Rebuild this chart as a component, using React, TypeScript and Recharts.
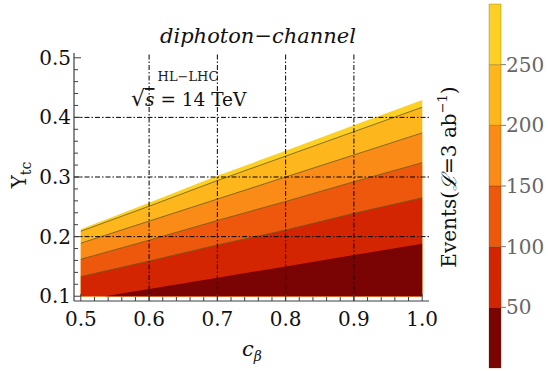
import React from 'react';
import { ComposedChart, Area, XAxis, YAxis, ReferenceLine, BarChart, Bar } from 'recharts';

const FONT = '"DejaVu Serif", "Liberation Serif", serif';
const FRAME = '#3f3f3f';
const CONTOUR_STROKE = '#6a5a1c';

// axis ticks (major + minor)
const xTicks = [0.5, 0.52, 0.54, 0.56, 0.58, 0.6, 0.62, 0.64, 0.66, 0.68, 0.7, 0.72, 0.74, 0.76, 0.78, 0.8, 0.82, 0.84, 0.86, 0.88, 0.9, 0.92, 0.94, 0.96, 0.98, 1.0];
const yTicks = [0.1, 0.12, 0.14, 0.16, 0.18, 0.2, 0.22, 0.24, 0.26, 0.28, 0.3, 0.32, 0.34, 0.36, 0.38, 0.4, 0.42, 0.44, 0.46, 0.48, 0.5];
const xGrid = [0.6, 0.7, 0.8, 0.9];
const yGrid = [0.2, 0.3, 0.4];

// c_beta sample positions
const cBeta = [0.5, 0.6, 0.7, 0.8, 0.9, 1.0];
const cBeta50 = [0.535, 0.6, 0.7, 0.8, 0.9, 1.0];

// Y_tc values along each boundary
const regionTop = [0.2125, 0.257, 0.302, 0.344, 0.387, 0.429];
const contour250 = [0.209, 0.251, 0.294, 0.335, 0.376, 0.417];
const contour200 = [0.189, 0.226, 0.263, 0.300, 0.337, 0.374];
const contour150 = [0.162, 0.194, 0.227, 0.259, 0.292, 0.324];
const contour100 = [0.133, 0.159, 0.186, 0.211, 0.239, 0.265];
const contour50 = [0.1, 0.112, 0.131, 0.150, 0.169, 0.188];

// colour bar
const eventTicks = [50, 100, 150, 200, 250];
const colorbarSteps = [50, 50, 50, 50, 50, 50];
const bandColors = ['#7a0303', '#d42503', '#ee580d', '#fa8b16', '#fdb61b', '#fcd024'];

const pts = (xs: number[], ys: number[]) => xs.map((x, i) => ({ x, y: ys[i] }));

const layers = [
  { data: pts(cBeta, regionTop), fill: bandColors[5], stroke: 'none' },
  { data: pts(cBeta, contour250), fill: bandColors[4], stroke: CONTOUR_STROKE },
  { data: pts(cBeta, contour200), fill: bandColors[3], stroke: CONTOUR_STROKE },
  { data: pts(cBeta, contour150), fill: bandColors[2], stroke: CONTOUR_STROKE },
  { data: pts(cBeta, contour100), fill: bandColors[1], stroke: CONTOUR_STROKE },
  { data: pts(cBeta50, contour50), fill: bandColors[0], stroke: 'none' },
];

const isMajor = (v: number) => Math.abs(v * 10 - Math.round(v * 10)) < 1e-6;
const MAJ = 7;
const MIN = 4;

const BottomTick = (p: any) => {
  const v = p.payload.value;
  const len = isMajor(v) ? MAJ : MIN;
  return (
    <g>
      <line x1={p.x} x2={p.x} y1={p.y} y2={p.y - len} stroke={FRAME} strokeWidth={1} />
      {isMajor(v) && (
        <text x={p.x} y={p.y + 24.5} textAnchor="middle" fontFamily={FONT} fontSize={20} fill="#111">
          {v.toFixed(1)}
        </text>
      )}
    </g>
  );
};
const TopTick = (p: any) => {
  const v = p.payload.value;
  const len = isMajor(v) ? MAJ : MIN;
  return <line x1={p.x} x2={p.x} y1={p.y} y2={p.y + len} stroke={FRAME} strokeWidth={1} />;
};
const LeftTick = (p: any) => {
  const v = p.payload.value;
  const len = isMajor(v) ? MAJ : MIN;
  return (
    <g>
      <line x1={p.x} x2={p.x + len} y1={p.y} y2={p.y} stroke={FRAME} strokeWidth={1} />
      {isMajor(v) && (
        <text x={p.x - 3} y={p.y + 7} textAnchor="end" fontFamily={FONT} fontSize={20} fill="#111">
          {v.toFixed(1)}
        </text>
      )}
    </g>
  );
};
const RightTick = (p: any) => {
  const v = p.payload.value;
  const len = isMajor(v) ? MAJ : MIN;
  return <line x1={p.x} x2={p.x - len} y1={p.y} y2={p.y} stroke={FRAME} strokeWidth={1} />;
};

const cbRow: Record<string, any> = { name: 'events' };
colorbarSteps.forEach((s, i) => (cbRow['s' + i] = s));

export default function App() {
  const axisLine = { stroke: FRAME, strokeWidth: 1.2 };
  return (
    <div style={{ position: 'absolute', left: 0, top: 0, width: 548, height: 371, background: '#fff' }}>
      <div style={{ position: 'absolute', left: 0, top: 0 }}>
        <ComposedChart width={548} height={371} margin={{ top: 53, right: 119, bottom: 0, left: 0 }}>
          <XAxis xAxisId="b" type="number" dataKey="x" domain={[0.49, 1.01]} allowDataOverflow ticks={xTicks} interval={0}
            tickSize={0} tickMargin={0} tickLine={false} axisLine={axisLine} tick={(p: any) => <BottomTick {...p} />} height={70} />
          <XAxis xAxisId="t" orientation="top" type="number" dataKey="x" domain={[0.49, 1.01]} allowDataOverflow ticks={xTicks} interval={0}
            tickSize={0} tickMargin={0} tickLine={false} axisLine={axisLine} tick={(p: any) => <TopTick {...p} />} height={0} />
          <YAxis yAxisId="l" type="number" domain={[0.092, 0.508]} allowDataOverflow ticks={yTicks} interval={0}
            tickSize={0} tickMargin={0} tickLine={false} axisLine={axisLine} tick={(p: any) => <LeftTick {...p} />} width={74} />
          <YAxis yAxisId="r" orientation="right" type="number" domain={[0.092, 0.508]} allowDataOverflow ticks={yTicks} interval={0}
            tickSize={0} tickMargin={0} tickLine={false} axisLine={axisLine} tick={(p: any) => <RightTick {...p} />} width={0} />
          {layers.map((l, i) => (
            <Area key={i} xAxisId="b" yAxisId="l" data={l.data} dataKey="y" type="linear" baseValue={0.1}
              fill={l.fill} fillOpacity={1} stroke={l.stroke} strokeWidth={1} strokeOpacity={0.8}
              isAnimationActive={false} dot={false} activeDot={false} />
          ))}
          {xGrid.map((g) => (
            <ReferenceLine key={'x' + g} xAxisId="b" yAxisId="l" x={g} stroke="#000" strokeWidth={1} strokeDasharray="5 2 1.5 2" />
          ))}
          {yGrid.map((g) => (
            <ReferenceLine key={'y' + g} xAxisId="b" yAxisId="l" y={g} stroke="#000" strokeWidth={1} strokeDasharray="5 2 1.5 2" />
          ))}
        </ComposedChart>
      </div>
      <div style={{ position: 'absolute', left: 0, top: 0 }}>
        <BarChart width={548} height={371} data={[cbRow]} margin={{ top: 4, right: 0, bottom: 3, left: 489 }} barCategoryGap={0}>
          <XAxis dataKey="name" hide />
          <YAxis orientation="right" width={47} type="number" domain={[0, 300]} ticks={eventTicks} interval={0}
            tickSize={5} tickMargin={0} axisLine={false} tickLine={{ stroke: '#777' }}
            tick={{ fill: '#666', fontSize: 20, fontFamily: FONT }} />
          {colorbarSteps.map((_, i) => (
            <Bar key={i} dataKey={'s' + i} stackId="cb" fill={bandColors[i]} stroke="rgba(90,60,0,0.35)" strokeWidth={0.8} isAnimationActive={false} />
          ))}
        </BarChart>
      </div>
      <svg width={548} height={371} style={{ position: 'absolute', left: 0, top: 0, pointerEvents: 'none' }} fontFamily={FONT}>
        <text x={258} y={43} textAnchor="middle" fontStyle="italic" fontSize={21} fill="#111">diphoton−channel</text>
        <text x={188} y={81} textAnchor="middle" fontSize={13} fill="#222">HL−LHC</text>
        <text x={131} y={106} fontSize={18.5} fill="#111">
          <tspan fontSize={22}>√</tspan><tspan fontStyle="italic" textDecoration="overline">s</tspan> = 14 TeV
        </text>
        <text x={252} y={356} textAnchor="middle" fontSize={21} fill="#111">
          <tspan fontStyle="italic">c</tspan>
          <tspan fontStyle="italic" fontSize={14} dy={5}>β</tspan>
        </text>
        <text x={0} y={0} transform="translate(26,175) rotate(-90)" textAnchor="middle" fontSize={20} fill="#111">
          Y<tspan fontSize={14} dy={5}>tc</tspan>
        </text>
        <text x={0} y={0} transform="translate(456,177) rotate(-90)" textAnchor="middle" fontSize={20} fill="#111">
          Events(<tspan fontStyle="italic">ℒ</tspan>=3 ab<tspan fontSize={13} dy={-9}>−1</tspan><tspan dy={9}>)</tspan>
        </text>
      </svg>
    </div>
  );
}
